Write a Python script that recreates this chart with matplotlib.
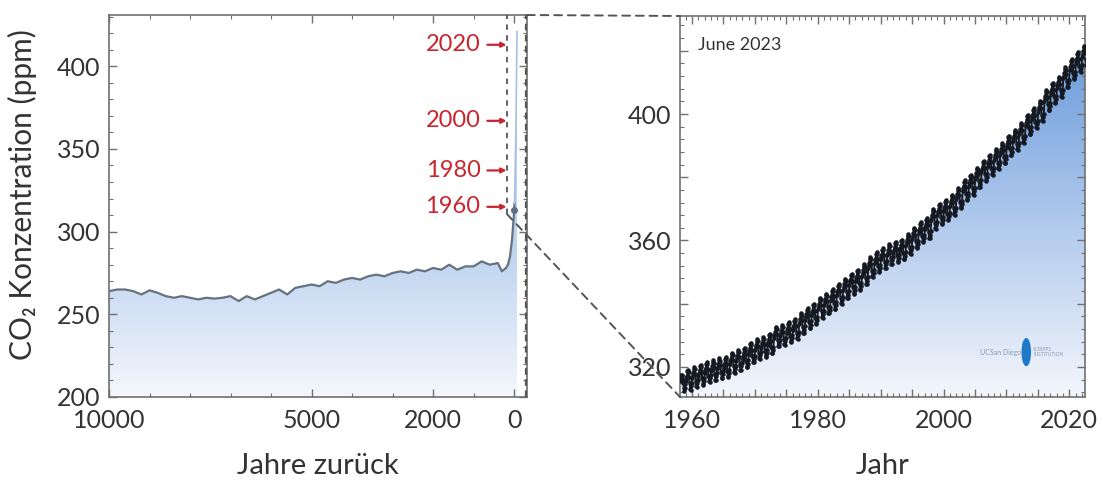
import numpy as np
import matplotlib.pyplot as plt
from matplotlib.patches import ConnectionPatch, Ellipse
from matplotlib.colors import LinearSegmentedColormap
from matplotlib.ticker import MultipleLocator, FixedLocator, FuncFormatter

plt.rcParams['font.family'] = ['Lato', 'DejaVu Sans']

# ice core record, years before 1950 -> ppm
years_back = [10000, 9800, 9600, 9400, 9200, 9000, 8800, 8600, 8400, 8200,
              8000, 7800, 7600, 7400, 7200, 7000, 6800, 6600, 6400, 6200,
              6000, 5800, 5600, 5400, 5200, 5000, 4800, 4600, 4400, 4200,
              4000, 3800, 3600, 3400, 3200, 3000, 2800, 2600, 2400, 2200,
              2000, 1800, 1600, 1400, 1200, 1000, 800, 600, 400, 300,
              200, 150, 100, 50, 0]
co2_ice = [264, 265, 265, 264, 262, 264.5, 263, 261, 260, 261,
           260, 259, 260, 259.5, 260, 261, 258, 261, 259, 261,
           263, 265, 262, 266, 267, 268, 267, 270, 269, 271,
           272, 271, 273, 274, 273, 275, 276, 275, 277, 276,
           278, 277, 280, 277, 279, 279, 282, 280, 281, 276,
           278, 280, 285, 295, 311]

# modern part on the same axis (1960 ... 2023)
modern_back = [-10, -20, -30, -40, -50, -60, -70, -73]
modern_co2 = [317, 325.7, 338.8, 354.5, 369.7, 390.1, 414.2, 421]

label_years = [2020, 2000, 1980, 1960]
label_ppm = [413, 367, 337, 315]

# Mauna Loa monthly record
ml_1958 = [315.7, 317.45, 317.51, 317.27, 315.87, 314.93, 313.21, 312.42, 313.33, 314.67]  # Mar-Dec
ml_years = list(range(1959, 2023))
ml_annual = [315.98, 316.91, 317.64, 318.45, 318.99, 319.62, 320.04, 321.37, 322.18, 323.05,
             324.62, 325.68, 326.32, 327.46, 329.68, 330.19, 331.12, 332.03, 333.84, 335.41,
             336.84, 338.76, 340.12, 341.48, 343.15, 344.87, 346.35, 347.61, 349.31, 351.69,
             353.20, 354.45, 355.70, 356.54, 357.21, 358.96, 360.97, 362.74, 363.88, 366.84,
             368.54, 369.71, 371.32, 373.45, 375.98, 377.70, 379.98, 382.09, 384.02, 385.83,
             387.64, 390.10, 391.85, 394.06, 396.74, 398.81, 401.01, 404.41, 406.76, 408.72,
             411.66, 414.24, 416.45, 418.56]
seasonal = [-0.4, 0.5, 1.3, 2.6, 3.1, 2.4, 0.9, -1.2, -3.0, -3.2, -2.0, -1.0]
ml_2023 = [419.5, 420.5, 421.0, 423.4, 424.0, 423.7]  # Jan-Jun

RED = '#c8262e'
SPINE = '#707070'


def gradient_fill(ax, x, y, ybottom, ylo, yhi, c0, c1, g0, g1):
    poly = ax.fill_between(x, y, ybottom, facecolor='none', edgecolor='none')
    cmap = LinearSegmentedColormap.from_list('g', [c0, c1])
    yy = np.linspace(ylo, yhi, 400).reshape(-1, 1)
    g = np.clip((yy - g0) / (g1 - g0), 0, 1)
    xl = ax.get_xlim()
    im = ax.imshow(g, aspect='auto', cmap=cmap, origin='lower', vmin=0, vmax=1,
                   extent=[min(xl), max(xl), ylo, yhi], zorder=1, interpolation='bilinear')
    im.set_clip_path(poly.get_paths()[0], transform=ax.transData)


def main():
    fig = plt.figure(figsize=(11.03, 4.8), dpi=100)
    ax1 = fig.add_axes([109 / 1103, 83 / 480, 418 / 1103, 382 / 480])
    ax2 = fig.add_axes([680 / 1103, 83 / 480, 405 / 1103, 381 / 480])

    # ---- left panel
    x_all = years_back + modern_back
    y_all = co2_ice + modern_co2
    ax1.set_xlim(10000, -320)
    ax1.set_ylim(200, 431)
    gradient_fill(ax1, x_all, y_all, 200, 200, 431, '#f4f7fc', '#bdd3f0', 200, 290)
    ax1.set_xlim(10000, -320)
    ax1.set_ylim(200, 431)
    ax1.plot(years_back + [-10], co2_ice + [317], color='#66727f', lw=1.6, zorder=3)
    ax1.plot([-10] + modern_back[1:], [317] + modern_co2[1:], color='#a9c0de', lw=1.2, zorder=3)
    ax1.plot([-10], [313], 'o', color='#5d6f84', ms=4, zorder=4)

    for yr, p in zip(label_years, label_ppm):
        ax1.annotate(str(yr), xy=(185, p), xytext=(830, p), ha='right', va='center',
                     color=RED, fontsize=17,
                     arrowprops=dict(arrowstyle='-|>', color=RED, lw=1.6,
                                     shrinkA=3, shrinkB=0, mutation_scale=7))

    # zoom box
    ax1.plot([170, 170], [310.5, 431], ls=(0, (3, 3)), color='#555555', lw=1.3, zorder=5)
    ax1.plot([-300, -300], [200, 431], ls=(0, (3, 2)), color='#555555', lw=1.6, zorder=5)

    ax1.xaxis.set_major_locator(FixedLocator([10000, 5000, 2000, 0]))
    ax1.xaxis.set_minor_locator(MultipleLocator(1000))
    ax1.yaxis.set_major_locator(MultipleLocator(50))
    ax1.yaxis.set_minor_locator(MultipleLocator(10))
    ax1.set_xlabel('Jahre zurück', fontsize=21, color='#333333', labelpad=15)
    ax1.set_ylabel('CO₂ Konzentration (ppm)', fontsize=21.5, color='#333333')
    ax1.yaxis.set_label_coords(-0.172, 0.53)

    # ---- right panel
    mx = [1958 + (m + 0.5) / 12 for m in range(2, 12)]
    my = list(ml_1958)
    for yr, a in zip(ml_years, ml_annual):
        for m in range(12):
            mx.append(yr + (m + 0.5) / 12)
            my.append(a + seasonal[m])
    for m, v in enumerate(ml_2023):
        mx.append(2023 + (m + 0.5) / 12)
        my.append(v)

    ax2.set_xlim(1958.1, 2022.5)
    ax2.set_ylim(310.5, 431)
    gradient_fill(ax2, mx, my, 310.5, 310.5, 431, '#f2f5fc', '#6698da', 312, 426)
    ax2.set_xlim(1958.1, 2022.5)
    ax2.set_ylim(310.5, 431)
    ax2.plot(mx, my, color='#151a22', lw=1.4, marker='.', ms=4.5, zorder=3)
    ax2.text(0.045, 0.925, 'June 2023', transform=ax2.transAxes, fontsize=13,
             color='#333333', va='center')

    # faint logo bottom right
    ax2.text(0.74, 0.118, 'UCSan Diego', transform=ax2.transAxes, fontsize=5,
             color='#8c9aae', va='center')
    ax2.add_patch(Ellipse((0.855, 0.118), 0.02, 0.07, transform=ax2.transAxes,
                          color='#1f78c8', zorder=4))
    ax2.text(0.872, 0.118, 'SCRIPPS\nINSTITUTION', transform=ax2.transAxes, fontsize=3.5,
             color='#8c9aae', va='center', linespacing=0.9)

    ax2.xaxis.set_major_locator(MultipleLocator(5))
    ax2.xaxis.set_major_formatter(FuncFormatter(lambda v, p: f'{int(v)}' if int(v) % 20 == 0 else ''))
    ax2.xaxis.set_minor_locator(MultipleLocator(1))
    ax2.yaxis.set_major_locator(MultipleLocator(20))
    ax2.yaxis.set_major_formatter(FuncFormatter(lambda v, p: f'{int(v)}' if int(v) % 40 == 0 else ''))
    ax2.yaxis.set_minor_locator(MultipleLocator(4))
    ax2.set_xlabel('Jahr', fontsize=21, color='#333333', labelpad=15)

    for ax in (ax1, ax2):
        for s in ax.spines.values():
            s.set_color(SPINE)
            s.set_linewidth(1.2)
        ax.tick_params(which='both', direction='in', top=True, right=True, colors=SPINE,
                       labelcolor='#333333', labelsize=18)
        ax.tick_params(which='major', length=6, width=1.0)
        ax.tick_params(which='minor', length=3, width=0.8)
        ax.tick_params(axis='x', pad=9)
        ax.tick_params(axis='y', pad=6)

    # connection lines between the panels
    dash = dict(ls=(0, (4, 3)), color='#555555', lw=1.4)
    con1 = ConnectionPatch(xyA=(-320, 431), coordsA=ax1.transData,
                           xyB=(0, 1), coordsB=ax2.transAxes, **dash)
    con2 = ConnectionPatch(xyA=(170, 310.5), coordsA=ax1.transData,
                           xyB=(0, 0), coordsB=ax2.transAxes, **dash)
    fig.add_artist(con1)
    fig.add_artist(con2)

    fig.savefig('out.png', dpi=100)


if __name__ == "__main__":
    main()
